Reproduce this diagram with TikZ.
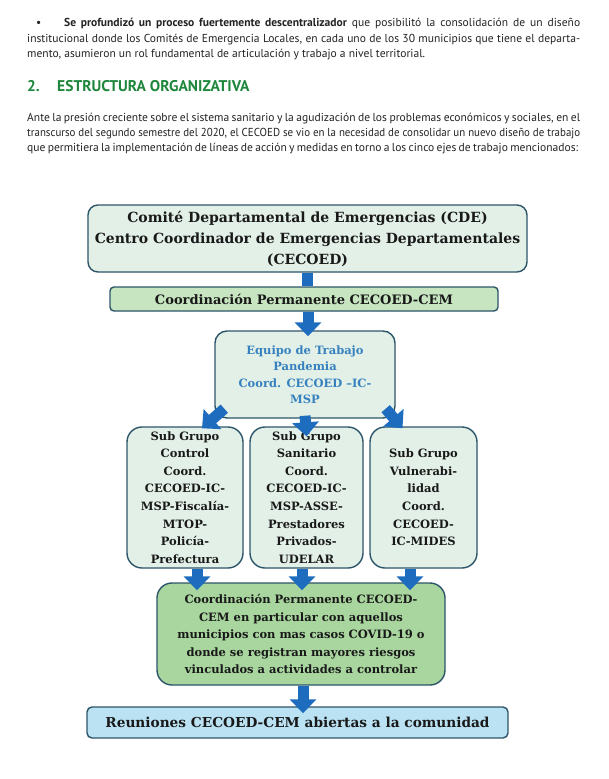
\documentclass[tikz,border=0pt]{standalone}
\usepackage{fontspec}
\usepackage{graphicx}
\setmainfont{PT Sans}
\newfontfamily\dser{DejaVu Serif}
\usetikzlibrary{arrows.meta}
\definecolor{bordc}{RGB}{45,85,105}
\definecolor{mint}{RGB}{226,240,232}
\definecolor{pgreen}{RGB}{198,229,192}
\definecolor{mgreen}{RGB}{168,214,158}
\definecolor{lblue}{RGB}{186,226,242}
\definecolor{arrc}{RGB}{30,108,190}
\definecolor{eqblue}{RGB}{55,130,190}
\definecolor{headg}{RGB}{30,135,60}
\definecolor{txt}{RGB}{35,35,35}
\definecolor{txtd}{RGB}{25,25,25}
\tikzset{
  bx/.style={draw=bordc, line width=1.4pt, align=center, inner sep=0pt, text=txtd},
  shaft/.style={draw=arrc, line width=11pt},
  blk/.style={draw=arrc, line width=11pt, -{Triangle[width=26pt,length=14pt]}},
  bodyline/.style={anchor=base west, inner sep=0pt, text=txt, font=\fontsize{11.55}{13}\selectfont},
}
\begin{document}
\begin{tikzpicture}[x=1pt,y=-1pt]
\fill[white] (0,0) rectangle (608,779);
\useasboundingbox (0,0) rectangle (608,779);
% body text
\node[bodyline] (b0) at (36,26) {\textbullet};
\node[bodyline] (l1) at (64,26) {\makebox[516pt][s]{\textbf{Se profundizó un proceso fuertemente descentralizador} que posibilitó la consolidación de un diseño}};
\node[bodyline] (l2) at (27,42) {\makebox[553pt][s]{institucional donde los Comités de Emergencia Locales, en cada uno de los 30 municipios que tiene el departa-}};
\node[bodyline] (l3) at (27,57.5) {mento, asumieron un rol fundamental de articulación y trabajo a nivel territorial.};
\node[bodyline, text=headg, font=\fontsize{15.5}{17}\selectfont\bfseries] (h1) at (27,91) {2.};
\node[bodyline, text=headg, font=\fontsize{15.5}{17}\selectfont\bfseries] (h2) at (57,91) {ESTRUCTURA ORGANIZATIVA};
\node[bodyline] (p1) at (27,121.5) {\makebox[553pt][s]{Ante la presión creciente sobre el sistema sanitario y la agudización de los problemas económicos y sociales, en el}};
\node[bodyline] (p2) at (27,136.5) {\resizebox{553pt}{\height}{transcurso del segundo semestre del 2020, el CECOED se vio en la necesidad de consolidar un nuevo diseño de trabajo}};
\node[bodyline] (p3) at (27,151.5) {\makebox[551pt][s]{que permitiera la implementación de líneas de acción y medidas en torno a los cinco ejes de trabajo mencionados:}};
% boxes
\node[bx, fill=mint, rounded corners=10pt, minimum width=439pt, minimum height=67pt,
  font={\dser\bfseries\fontsize{14}{21}\selectfont}] (cde) at (307.5,238.5)
  {Comité Departamental de Emergencias (CDE)\\Centro Coordinador de Emergencias Departamentales\\(CECOED)};
\node[bx, fill=pgreen, rounded corners=4pt, minimum width=388pt, minimum height=24pt,
  font={\dser\bfseries\fontsize{13}{16}\selectfont}] (cp) at (304,299)
  {Coordinación Permanente CECOED-CEM};
\node[bx, fill=mint, rounded corners=12pt, minimum width=180pt, minimum height=87pt, text=eqblue,
  font={\dser\bfseries\fontsize{11.5}{16.5}\selectfont}] (eq) at (305,374.5)
  {Equipo de Trabajo\\Pandemia\\Coord. CECOED –IC-\\MSP};
\tikzset{sub/.style={bx, fill=mint, rounded corners=15pt, minimum height=141pt, font={\dser\bfseries\fontsize{11.5}{17.6}\selectfont}}}
\node[sub, minimum width=116pt] (sl) at (185,497.5)
  {Sub Grupo\\Control\\Coord.\\CECOED-IC-\\MSP-Fiscalía-\\MTOP-\\Policía-\\Prefectura};
\node[sub, minimum width=113pt] (sm) at (306.5,497.5)
  {Sub Grupo\\Sanitario\\Coord.\\CECOED-IC-\\MSP-ASSE-\\Prestadores\\Privados-\\UDELAR};
\node[sub, minimum width=107pt] (sr) at (423.5,497.5)
  {Sub Grupo\\Vulnerabi-\\lidad\\Coord.\\CECOED-\\IC-MIDES};
\node[bx, fill=mgreen, rounded corners=15pt, minimum width=288pt, minimum height=102pt,
  font={\dser\bfseries\fontsize{11.5}{17.5}\selectfont}] (co) at (301,634)
  {Coordinación Permanente CECOED-\\CEM en particular con aquellos\\municipios con mas casos COVID-19 o\\donde se registran mayores riesgos\\vinculados a actividades a controlar};
\node[bx, fill=lblue, rounded corners=5pt, minimum width=421pt, minimum height=31pt,
  font={\dser\bfseries\fontsize{13.7}{17}\selectfont}] (re) at (297.5,722.5)
  {Reuniones CECOED-CEM abiertas a la comunidad};
% arrows
\draw[shaft] (cde.south) -- (cde.south |- cp.north);
\draw[blk, shorten >=-6pt] ([xshift=4pt]cp.south) -- ([xshift=4pt]cp.south |- eq.north);
\draw[blk] ([xshift=10pt,yshift=10pt]eq.south west) -- ([xshift=17pt,yshift=-2pt]sl.north);
\draw[blk] ([yshift=3pt]eq.south) -- ([yshift=-10pt]sm.north);
\draw[blk] ([xshift=-10pt,yshift=10pt]eq.south east) -- ([xshift=-21pt,yshift=-2pt]sr.north);
\draw[blk, shorten >=-8pt] ([xshift=12pt]sl.south) -- ([xshift=12pt]sl.south |- co.north);
\draw[blk, shorten >=-8pt] ([xshift=-4.5pt]sm.south) -- ([xshift=-4.5pt]sm.south |- co.north);
\draw[blk, shorten >=-8pt] ([xshift=-13.5pt]sr.south) -- ([xshift=-13.5pt]sr.south |- co.north);
\draw[blk, shorten >=-7pt] ([xshift=2pt]co.south) -- ([xshift=2pt]co.south |- re.north);
\end{tikzpicture}
\end{document}
